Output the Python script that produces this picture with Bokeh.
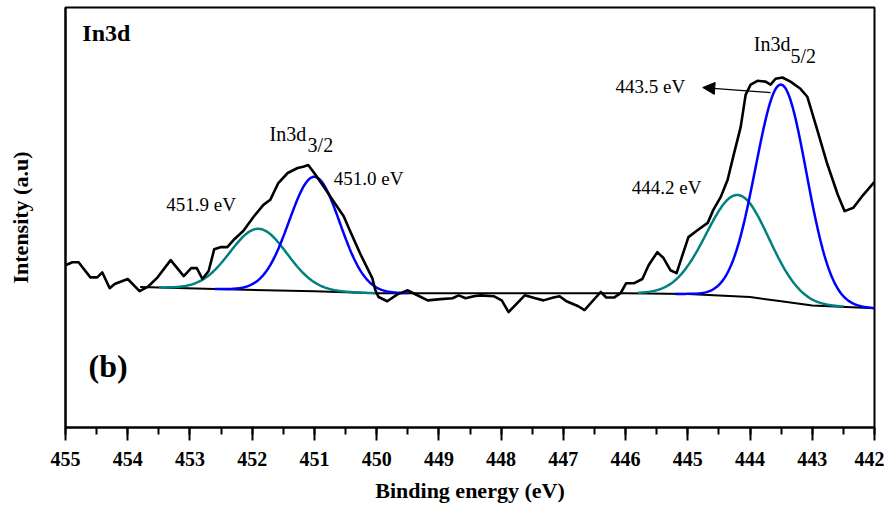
import numpy as np
from bokeh.plotting import figure
from bokeh.models import Range1d, SingleIntervalTicker, FixedTicker, Label, Arrow, NormalHead
from bokeh.embed import file_html
from bokeh.resources import INLINE

# Raw XPS spectrum (binding energy in eV, intensity in a.u.)
energy = [455.00, 454.89, 454.79, 454.60, 454.49, 454.41, 454.29, 454.21, 454.00, 453.81,
          453.68, 453.52, 453.31, 453.10, 452.98, 452.89, 452.80, 452.70, 452.61, 452.51,
          452.40, 452.30, 452.14, 451.98, 451.82, 451.71, 451.58, 451.43, 451.27, 451.18,
          451.10, 450.98, 450.85, 450.71, 450.53, 450.42, 450.26, 450.15, 450.07, 450.02,
          449.97, 449.83, 449.66, 449.50, 449.41, 449.18, 448.97, 448.78, 448.68, 448.57,
          448.44, 448.33, 448.12, 447.99, 447.88, 447.62, 447.45, 447.32, 447.16, 447.06,
          446.95, 446.76, 446.66, 446.40, 446.31, 446.18, 446.08, 445.99, 445.86, 445.73,
          445.63, 445.49, 445.39, 445.28, 445.18, 445.09, 444.99, 444.84, 444.68, 444.59,
          444.47, 444.36, 444.27, 444.15, 444.07, 443.99, 443.88, 443.75, 443.67, 443.59,
          443.48, 443.35, 443.19, 443.08, 442.92, 442.76, 442.59, 442.48, 442.34, 442.18,
          442.00]
intensity = [38.5, 39.2, 39.2, 35.6, 35.6, 36.8, 33.0, 34.0, 35.2, 32.3,
             33.3, 35.6, 39.7, 35.9, 37.8, 37.8, 35.2, 37.1, 42.3, 42.8,
             42.8, 44.5, 46.7, 50.0, 52.9, 54.1, 58.1, 60.5, 61.7, 62.0,
             62.4, 60.0, 57.2, 54.1, 50.2, 46.4, 41.1, 37.8, 35.4, 32.5,
             30.9, 29.9, 31.6, 32.5, 31.8, 30.1, 30.4, 30.6, 31.3, 30.6,
             31.1, 31.3, 31.1, 30.1, 27.3, 31.3, 30.6, 30.1, 30.8, 31.1,
             29.9, 28.7, 27.8, 32.1, 30.8, 30.8, 31.8, 34.2, 34.2, 35.2,
             38.5, 41.6, 40.2, 37.3, 36.6, 40.7, 45.2, 46.9, 48.6, 51.7,
             54.8, 58.9, 64.4, 71.5, 79.2, 81.6, 82.5, 82.3, 81.6, 83.0,
             83.3, 82.3, 80.6, 78.7, 70.8, 62.7, 55.3, 51.4, 52.2, 55.3,
             58.4]

# Background (Shirley-like) line
baseline_energy = [453.8, 452.6, 451.0, 450.0, 446.0, 445.0, 444.0, 443.5, 443.0, 442.0]
baseline_intensity = [33.3, 32.8, 32.3, 31.8, 31.8, 31.6, 30.9, 29.9, 28.9, 28.2]

# Fitted components
peak_names = ["In3d3/2 451.9", "In3d3/2 451.0", "In3d5/2 444.2", "In3d5/2 443.5"]
peak_centers = [451.9, 451.0, 444.2, 443.5]
peak_heights = [14.6, 27.3, 24.2, 51.7]
peak_fwhm = [1.08, 0.96, 1.18, 0.96]
peak_from = [453.5, 452.6, 445.8, 445.2]
peak_to = [450.0, 449.5, 442.5, 442.0]
peak_colors = ["#008080", "#0000FF", "#008080", "#0000FF"]

x_ticks = [455, 454, 453, 452, 451, 450, 449, 448, 447, 446, 445, 444, 443, 442]

SERIF = "Liberation Serif"

p = figure(width=884, height=508, output_backend="svg", toolbar_location=None,
           x_range=Range1d(455, 442), y_range=Range1d(-0.24, 100.0),
           min_border_left=65, min_border_right=10, min_border_top=7, min_border_bottom=81)
p.background_fill_color = "white"
p.border_fill_color = "white"
p.xgrid.visible = False
p.ygrid.visible = False
p.outline_line_color = "black"
p.outline_line_width = 2
p.outline_line_alpha = 1

bx = np.array(baseline_energy[::-1])
by = np.array(baseline_intensity[::-1])

p.line(baseline_energy, baseline_intensity, line_color="black", line_width=2)

for c, h, w, a, b, col in zip(peak_centers, peak_heights, peak_fwhm, peak_from, peak_to, peak_colors):
    xs = np.linspace(b, a, 200)
    sig = w / 2.3548
    ys = np.interp(xs, bx, by) + h * np.exp(-0.5 * ((xs - c) / sig) ** 2)
    p.line(xs, ys, line_color=col, line_width=2.5)

p.line(energy, intensity, line_color="black", line_width=2.6, line_join="round")

# x axis
xa = p.xaxis[0]
xa.ticker = SingleIntervalTicker(interval=1, num_minor_ticks=2)
xa.axis_line_width = 2
xa.major_tick_line_width = 2
xa.minor_tick_line_width = 2
xa.major_tick_in = 0
xa.major_tick_out = 13
xa.minor_tick_in = 0
xa.minor_tick_out = 7
xa.major_label_standoff = 11
xa.major_label_text_font = SERIF
xa.major_label_text_font_style = "bold"
xa.major_label_text_font_size = "20px"
xa.major_label_text_color = "black"
xa.axis_label = "Binding energy (eV)"
xa.axis_label_text_font = SERIF
xa.axis_label_text_font_style = "bold"
xa.axis_label_text_font_size = "22px"
xa.axis_label_text_color = "black"
xa.axis_label_standoff = 9

# y axis
ya = p.yaxis[0]
ya.ticker = FixedTicker(ticks=[])
ya.axis_line_width = 2
ya.major_tick_out = 0
ya.major_tick_in = 0
ya.minor_tick_out = 0
ya.axis_label = "Intensity (a.u)"
ya.axis_label_text_font = SERIF
ya.axis_label_text_font_style = "bold"
ya.axis_label_text_font_size = "22px"
ya.axis_label_text_color = "black"
ya.axis_label_standoff = 33

def lab(x, y, t, size, bold=False, baseline="alphabetic"):
    p.add_layout(Label(x=x, y=y, text=t, text_font=SERIF, text_font_size=size,
                       text_font_style="bold" if bold else "normal",
                       text_color="black", text_baseline=baseline, text_align="left"))

lab(454.73, 93.8, "In3d", "24px", bold=True)
lab(454.63, 14.4, "(b)", "32px", bold=True, baseline="middle")

lab(451.72, 69.8, "In3d", "20px")
lab(451.11, 67.2, "3/2", "20px")
lab(443.94, 91.4, "In3d", "20px")
lab(443.35, 88.5, "5/2", "20px")

lab(453.38, 53.1, "451.9 eV", "19px")
lab(450.69, 59.1, "451.0 eV", "19px")
lab(445.90, 57.1, "444.2 eV", "19px")
lab(446.16, 81.1, "443.5 eV", "19px")

p.add_layout(Arrow(end=NormalHead(size=12, fill_color="black", line_color="black", line_width=1),
                   x_start=443.67, y_start=79.7, x_end=444.76, y_end=80.9,
                   line_color="black", line_width=1.2))

open("out.html", "w").write(file_html(p, INLINE))
